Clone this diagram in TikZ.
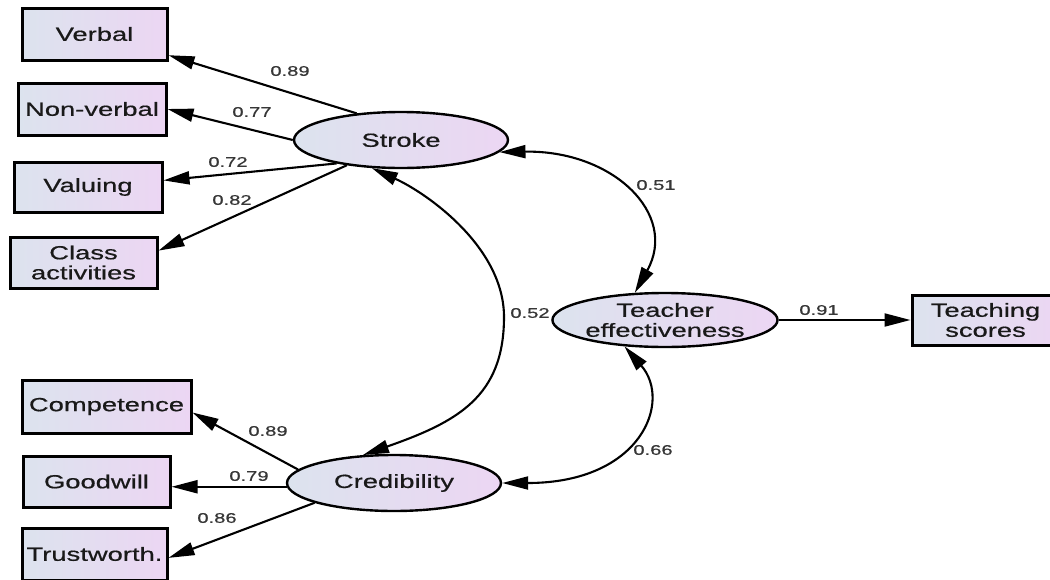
\documentclass[tikz,border=0pt]{standalone}
\usepackage{fontspec}
\setmainfont{Liberation Sans}[FakeStretch=1.44,FakeBold=0.6]
\usetikzlibrary{shapes.geometric,arrows.meta}
\definecolor{fillL}{RGB}{220,227,238}
\definecolor{fillR}{RGB}{236,214,243}
\definecolor{lblgray}{RGB}{55,55,55}
\newcommand\bxf{\fontsize{19}{20}\selectfont}
\newcommand\lbf{\fontsize{14}{15}\selectfont}
\tikzset{
  ind/.style={draw=black, line width=3pt, rectangle, left color=fillL, right color=fillR,
    inner sep=0pt, font=\bxf, align=center, text=black!90},
  lat/.style={draw=black, line width=2.4pt, ellipse, left color=fillL, right color=fillR,
    inner sep=0pt, minimum width=214pt, minimum height=56pt, font=\bxf, align=center, text=black!90},
  tip/.tip={Triangle[length=26pt,width=13pt]},
  load/.style={line width=2.1pt, -tip},
  cov/.style={line width=2.1pt, tip-tip},
  lbl/.style={font=\lbf, text=lblgray, inner sep=0pt}
}
\begin{document}
\begin{tikzpicture}[x=1pt,y=-1pt]
\useasboundingbox (0,0) rectangle (1050,579);
\clip (0,0) rectangle (1050,579);
\fill[white] (0,0) rectangle (1050,579);

% indicator boxes
\node[ind, minimum width=145pt, minimum height=52pt] (verbal) at (94.5,34) {Verbal};
\node[ind, minimum width=148pt, minimum height=52pt] (nonverbal) at (92,109) {Non-verbal};
\node[ind, minimum width=148pt, minimum height=50pt] (valuing) at (88,187) {Valuing};
\node[ind, minimum width=147pt, minimum height=51pt] (classact) at (83.5,262.5) {Class\\activities};
\node[ind, minimum width=169pt, minimum height=53pt] (competence) at (106.5,406.5) {Competence};
\node[ind, minimum width=147pt, minimum height=51pt] (goodwill) at (96.5,481.5) {Goodwill};
\node[ind, minimum width=145pt, minimum height=52pt] (trust) at (94.5,554) {Trustworth.};
\node[ind, minimum width=147pt, minimum height=50pt] (tscores) at (985.5,320) {Teaching\\scores};

% latent variables
\node[lat] (stroke) at (401,140) {Stroke};
\node[lat, minimum height=54pt] (te) at (665,320) {Teacher\\effectiveness};
\node[lat] (cred) at (394,483) {Credibility};

% loadings
\draw[load] (stroke.149) -- (verbal.-16);
\draw[load] (stroke.180) -- (nonverbal.east);
\draw[load] (stroke.200) -- (valuing.5);
\draw[load] (stroke.205) -- (classact.9.6);
\draw[load] (cred.172) -- (competence.-4.4);
\draw[load] (cred.182) -- (cred.182 -| goodwill.east);
\draw[load] (cred.194) -- (trust.-3.2);
\draw[load] (te.east) -- (tscores.west);

% covariances
\coordinate (bend) at (504,317);
\draw[cov] (stroke.-7) .. controls +(113,-2) and +(44,-79) .. (te.138);
\draw[cov] (stroke.224) .. controls +(55,25) and +(0,-70) .. (bend)
  .. controls +(0,80) and +(94,-33) .. (cred.138);
\draw[cov] (te.213) .. controls +(48,55) and +(139,0) .. (cred.0);

% labels
\node[lbl] (l1) at (290,71) {0.89};
\node[lbl] (l2) at (252,112) {0.77};
\node[lbl] (l3) at (228,162) {0.72};
\node[lbl] (l4) at (232,200) {0.82};
\node[lbl] (l5) at (268,431) {0.89};
\node[lbl] (l6) at (249,476) {0.79};
\node[lbl] (l7) at (217,518) {0.86};
\node[lbl] (l8) at (819,310) {0.91};
\node[lbl] (l9) at (656,185) {0.51};
\node[lbl] (l10) at (530,313) {0.52};
\node[lbl] (l11) at (653,450) {0.66};
\end{tikzpicture}
\end{document}
